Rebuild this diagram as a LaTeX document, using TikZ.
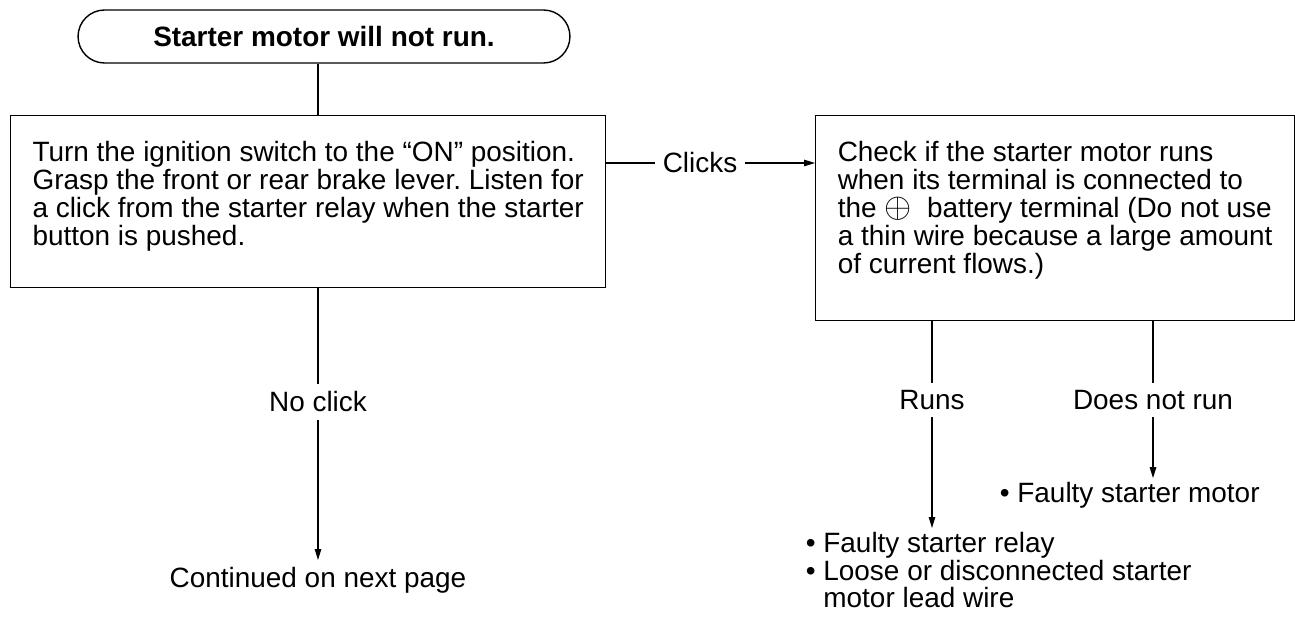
\documentclass[tikz,border=0pt]{standalone}
\usepackage{fontspec}
\setmainfont{Liberation Sans}
\usetikzlibrary{arrows.meta,positioning}
\newcommand{\chartfont}{\fontsize{15.9}{15.9}\selectfont\frenchspacing}
\newcommand{\plusterm}{\scalebox{1.15}{$\oplus$}}
\newcommand{\lift}[1]{\rule[-#1]{0pt}{0pt}}
\tikzset{
  box/.style={draw,line width=0.8pt,align=left,inner sep=0pt},
  endbox/.style={draw,line width=0.8pt,rounded corners=0.53cm,minimum width=9.84cm,minimum height=1.06cm,font=\chartfont\bfseries},
  lbl/.style={inner sep=4pt},
  lst/.style={align=left,inner sep=2pt},
  ln/.style={line width=0.7pt},
  ar/.style={ln,-{Triangle[length=2.2mm,width=1.3mm]}},
}
\begin{document}
\begin{tikzpicture}[x=0.02cm,y=-0.02cm,font=\chartfont]
\useasboundingbox (0,0) rectangle (1295,626);
\node[endbox] (start) at (324,36.5) {Starter motor will not run.};
\node[box,anchor=north west,minimum width=11.9cm,minimum height=3.44cm] (relaytest) at (10,115)
  {Turn the ignition switch to the “ON” position.\\
   Grasp the front or rear brake lever. Listen for\\
   a click from the starter relay when the starter\\
   button is pushed.\lift{0.32cm}};
\node[box,anchor=north west,minimum width=9.58cm,minimum height=4.1cm] (motortest) at (815,115)
  {Check if the starter motor runs\\
   when its terminal is connected to\\
   the \plusterm\ \ battery terminal (Do not use\\
   a thin wire because a large amount\\
   of current flows.)\lift{0.44cm}};
\node[lbl] (clicks) at (700,163) {Clicks};
\node[lbl] (noclick) at (318,402) {No click};
\node[lbl,anchor=north] (next) at (318,560) {Continued on next page};
\node[lbl] (runs) at (932,400) {Runs};
\node[lbl] (notrun) at (1153,400) {Does not run};
\node[lst,anchor=west] (badmotor) at (996,495) {• Faulty starter motor};
\node[lst,anchor=north west] (badrelay) at (802,528)
  {• Faulty starter relay\\
   • Loose or disconnected starter\\
   \phantom{• }motor lead wire};
\draw[ln] (noclick |- start.south) -- (noclick |- relaytest.north);
\draw[ln] (noclick |- relaytest.south) -- (noclick.north);
\draw[ar] (noclick.south) -- (next.north);
\draw[ln] (relaytest.east |- clicks) -- (clicks.west);
\draw[ar] (clicks.east) -- (clicks -| motortest.west);
\draw[ln] (runs |- motortest.south) -- (runs.north);
\draw[ar] (runs.south) -- (runs.south |- badrelay.north);
\draw[ln] (notrun |- motortest.south) -- (notrun.north);
\draw[ar] (notrun.south) -- (notrun.south |- badmotor.north);
\end{tikzpicture}
\end{document}
